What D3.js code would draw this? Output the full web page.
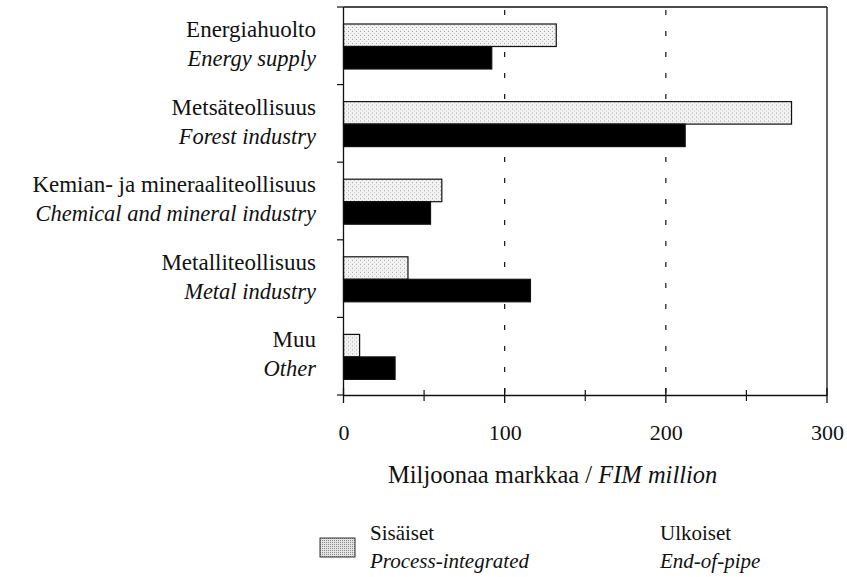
<!DOCTYPE html>
<html><head><meta charset="utf-8">
<script src="https://cdn.jsdelivr.net/npm/d3@7"></script>
<style>
body{margin:0;background:#fff;}
</style></head>
<body><svg id="c" width="847" height="577" font-family="Liberation Serif"></svg>
<script>
const categoriesFi = ["Energiahuolto","Metsäteollisuus","Kemian- ja mineraaliteollisuus","Metalliteollisuus","Muu"];
const categoriesEn = ["Energy supply","Forest industry","Chemical and mineral industry","Metal industry","Other"];
const processIntegrated = [132, 278, 61, 40, 10];
const endOfPipe = [92, 212, 54, 116, 32];
const seriesFi = ["Sisäiset","Ulkoiset"];
const seriesEn = ["Process-integrated","End-of-pipe"];
const xTicks = [0,100,200,300];
const xMinorTicks = [50,150,250];

const FONT = "Liberation Serif";
const svg = d3.select("#c");
const defs = svg.append("defs");
const pat = defs.append("pattern").attr("id","stip").attr("width",4).attr("height",4).attr("patternUnits","userSpaceOnUse");
pat.append("rect").attr("width",4).attr("height",4).attr("fill","#f3f3f3");
pat.append("rect").attr("x",0).attr("y",0).attr("width",1).attr("height",1).attr("fill","#a0a0a0");
pat.append("rect").attr("x",2).attr("y",2).attr("width",1).attr("height",1).attr("fill","#c4c4c4");
const pat2 = defs.append("pattern").attr("id","stip2").attr("width",2).attr("height",2).attr("patternUnits","userSpaceOnUse");
pat2.append("rect").attr("width",2).attr("height",2).attr("fill","#e4e4e4");
pat2.append("rect").attr("width",1).attr("height",1).attr("fill","#8a8a8a");

const x = d3.scaleLinear().domain([0,300]).range([343.5,827]);
const y0 = d3.scaleBand().domain(categoriesFi).range([7,395]);
const y1 = d3.scaleBand().domain(seriesFi).range([17,62]);

const rows = categoriesFi.map((c,i)=>({c, en:categoriesEn[i], vals:[processIntegrated[i], endOfPipe[i]]}));

// frame
svg.append("line").attr("x1",x(0)).attr("x2",x(300)).attr("y1",7).attr("y2",7).attr("stroke","#111").attr("stroke-width",1.3);
svg.append("line").attr("x1",x(300)).attr("x2",x(300)).attr("y1",7).attr("y2",395).attr("stroke","#111").attr("stroke-width",1.3);

// grid
svg.selectAll(".grid").data([100,200]).enter().append("line")
  .attr("x1",d=>x(d)).attr("x2",d=>x(d)).attr("y1",10).attr("y2",395)
  .attr("stroke","#111").attr("stroke-width",1.2).attr("stroke-dasharray","5,16");

// bars
const g = svg.selectAll(".grp").data(rows).enter().append("g").attr("transform",d=>`translate(0,${y0(d.c)})`);
g.selectAll("rect").data(d=>d.vals.map((v,j)=>({s:seriesFi[j],v,j}))).enter().append("rect")
  .attr("x",x(0)).attr("y",d=>y1(d.s)).attr("height",y1.bandwidth())
  .attr("width",d=>x(d.v)-x(0))
  .attr("fill",d=>d.j===0?"url(#stip)":"#000")
  .attr("stroke","#111").attr("stroke-width",1.2);

// labels
g.append("text").attr("x",316).attr("y",30).attr("text-anchor","end").attr("font-size",23).attr("font-family",FONT).attr("fill","#111").text(d=>d.c);
g.append("text").attr("x",316).attr("y",59).attr("text-anchor","end").attr("font-size",22.5).attr("font-style","italic").attr("font-family",FONT).attr("fill","#111").text(d=>d.en);

// y axis
svg.append("line").attr("x1",x(0)).attr("x2",x(0)).attr("y1",7).attr("y2",395).attr("stroke","#111").attr("stroke-width",1.3);
const yTickPos = categoriesFi.map(c=>y0(c)).concat([395]);
svg.selectAll(".yt").data(yTickPos).enter().append("line")
  .attr("x1",337).attr("x2",x(0)).attr("y1",d=>d).attr("y2",d=>d).attr("stroke","#111").attr("stroke-width",1.2);

// x axis
const xAxis = d3.axisBottom(x).tickValues(xTicks).tickSize(0).tickPadding(29).tickFormat(d3.format("d"));
const ax = svg.append("g").attr("transform","translate(0,395)").call(xAxis);
ax.attr("font-family",FONT).attr("font-size",22);
ax.select(".domain").attr("stroke","#111").attr("stroke-width",1.3);
ax.selectAll("text").attr("fill","#111");
svg.selectAll(".xmaj").data(xTicks).enter().append("line")
  .attr("x1",d=>x(d)).attr("x2",d=>x(d)).attr("y1",388).attr("y2",403).attr("stroke","#111").attr("stroke-width",1.3);
svg.selectAll(".xmin").data(xMinorTicks).enter().append("line")
  .attr("x1",d=>x(d)).attr("x2",d=>x(d)).attr("y1",390).attr("y2",401).attr("stroke","#111").attr("stroke-width",1.2);

// axis title
const t = svg.append("text").attr("x",388).attr("y",483).attr("font-size",24.5).attr("font-family",FONT).attr("fill","#111");
t.append("tspan").text("Miljoonaa markkaa / ");
t.append("tspan").attr("font-style","italic").text("FIM million");

// legend
svg.append("rect").attr("x",320).attr("y",538).attr("width",35).attr("height",19).attr("fill","url(#stip2)").attr("stroke","#333").attr("stroke-width",1);
const legX = [370, 660];
seriesFi.forEach((s,i)=>{
  svg.append("text").attr("x",legX[i]).attr("y",540).attr("font-size",21).attr("font-family",FONT).attr("fill","#111").text(s);
  svg.append("text").attr("x",legX[i]).attr("y",568).attr("font-size",21).attr("font-style","italic").attr("font-family",FONT).attr("fill","#111").text(seriesEn[i]);
});
</script></body></html>
